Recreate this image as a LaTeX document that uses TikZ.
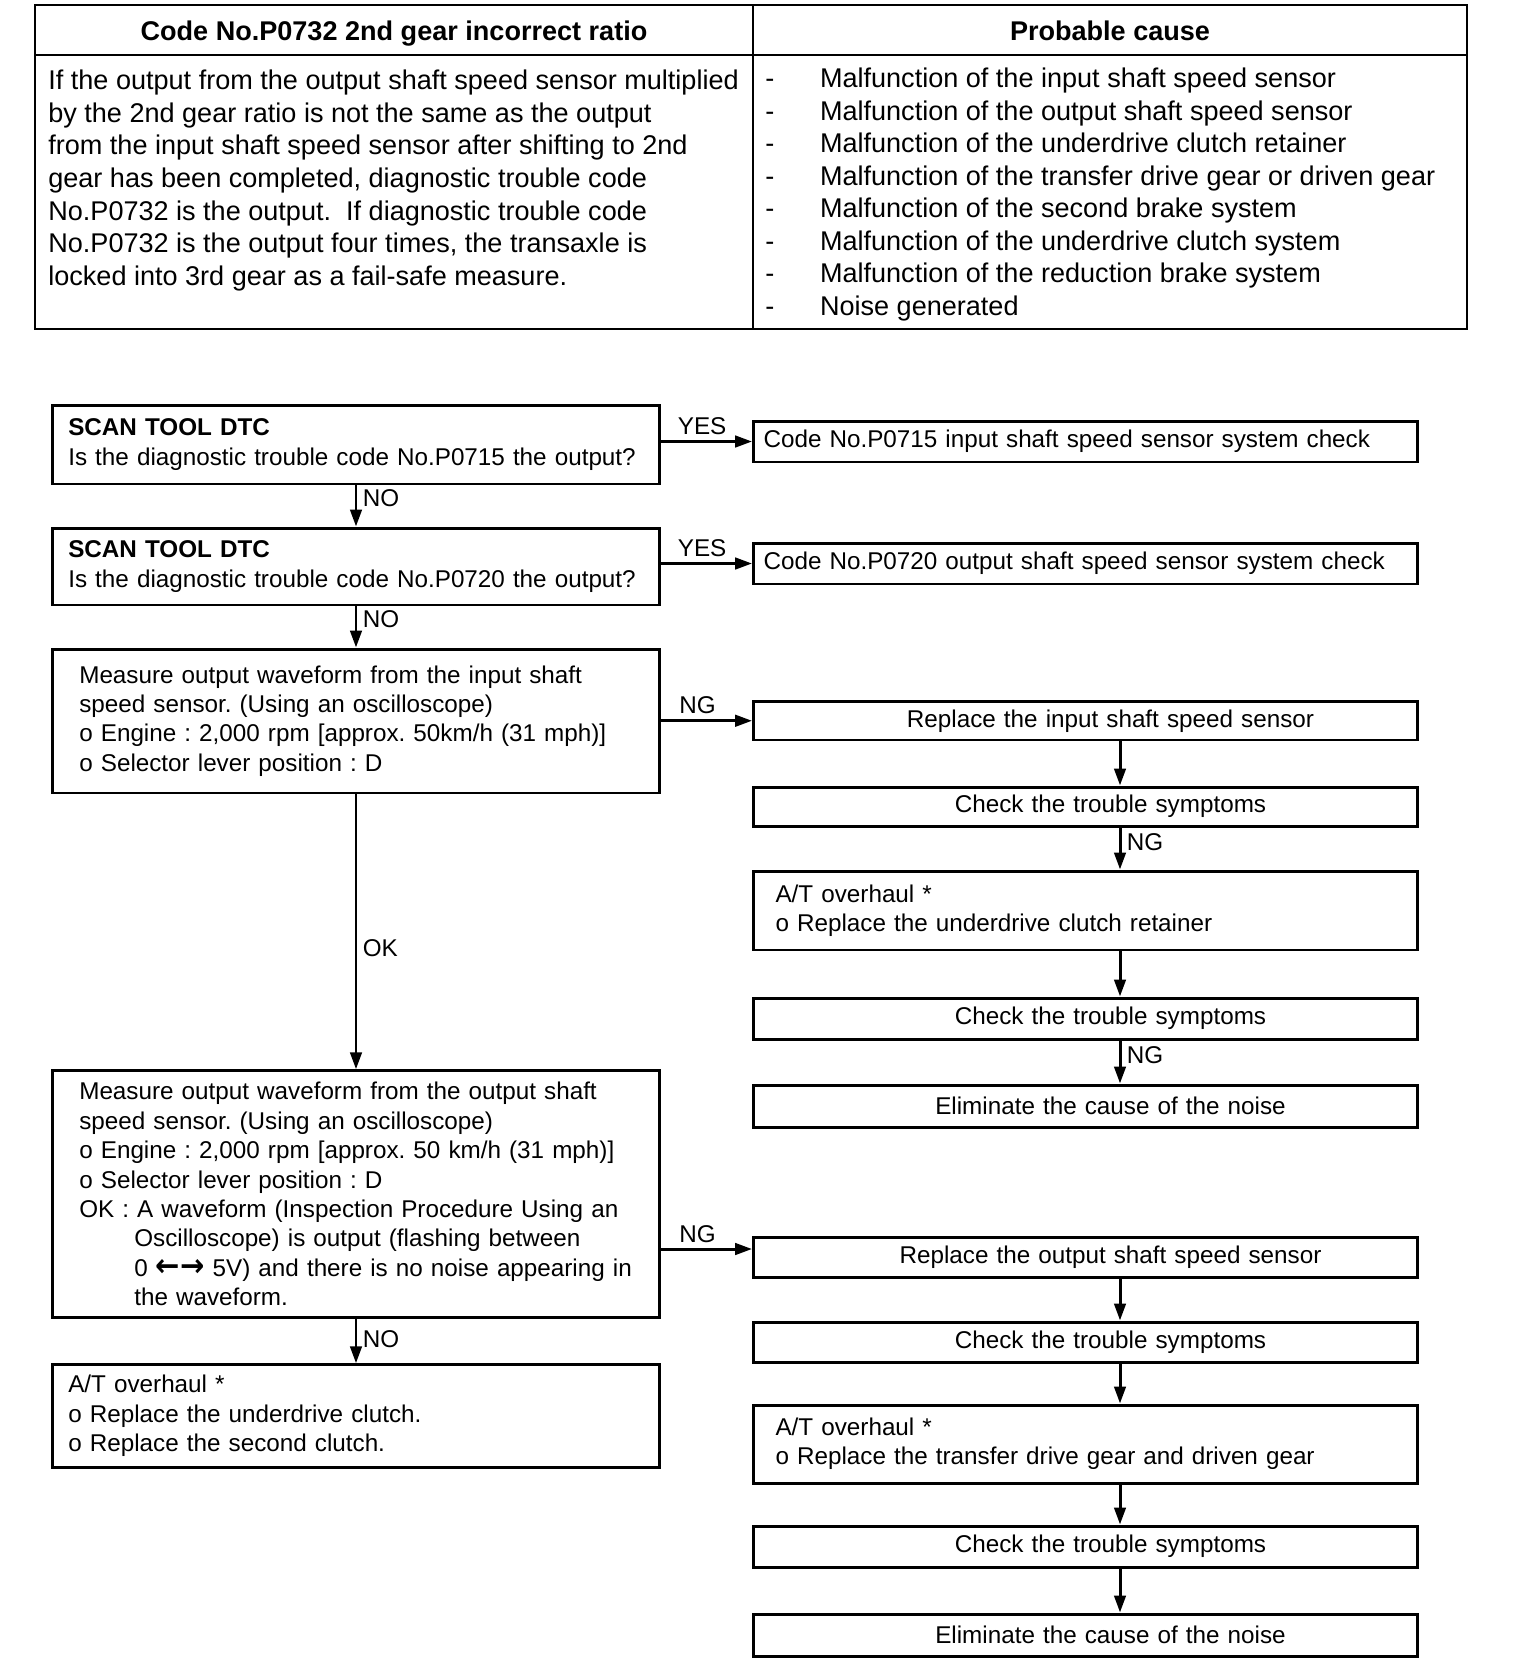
\documentclass[tikz,border=0pt]{standalone}
\usepackage{fontspec}
\setmainfont{Liberation Sans}
\newfontfamily\dejavuarrows{DejaVu Sans}
\usepackage{tikz}
\usetikzlibrary{arrows.meta,positioning}
\frenchspacing
\tikzset{
  dtc diagram/.style={x=0.02cm, y=-0.02cm,
    font=\fontsize{13.8}{16.7}\selectfont, line join=miter},
  dtc cell/.style={draw, line width=1.4pt, inner sep=0pt,
    text height=1.3em, text depth=0.08em,
    font=\fontsize{15.4}{18.4}\selectfont\bfseries},
  dtc para/.style={font=\fontsize{15.4}{18.5}\selectfont, align=left, inner sep=0pt},
  dtc box/.style={draw, line width=1.7pt, inner ysep=0pt},
  dtc left box/.style={dtc box, inner xsep=0.32cm, text width=11.51cm, align=left},
  dtc step box/.style={dtc box, inner xsep=0.54cm, text width=11.07cm, align=left},
  dtc right box/.style={dtc box, inner xsep=0.2cm, text width=12.88cm, align=left},
  dtc repair box/.style={dtc box, inner xsep=0.44cm, text width=12.4cm, align=left},
  dtc check box/.style={dtc box, inner xsep=0.2cm, text width=12.88cm, align=center,
    execute at begin node=\hspace*{1cm}},
  dtc arrow/.style={-{Triangle[length=3.4mm,width=2.3mm]}, line width=1.7pt},
  dtc label/.style={inner sep=3pt}
}
\begin{document}
\begin{tikzpicture}[dtc diagram]
\useasboundingbox (0,0) rectangle (1536,1680);
% table
\node[dtc cell, minimum width=14.36cm, minimum height=1cm] (codehead) at (394,30) {Code No.P0732 2nd gear incorrect ratio};
\node[dtc cell, minimum width=14.28cm, minimum height=1cm] (causehead) at (1110,30) {Probable cause};
\node[dtc cell, minimum width=14.36cm, minimum height=5.48cm] (codebody) at (394,192) {};
\node[dtc cell, minimum width=14.28cm, minimum height=5.48cm] (causebody) at (1110,192) {};
\node[dtc para, anchor=west] (condition) at (48,180.5) {If the output from the output shaft speed sensor multiplied\\
by the 2nd gear ratio is not the same as the output\\
from the input shaft speed sensor after shifting to 2nd\\
gear has been completed, diagnostic trouble code\\
No.P0732 is the output.~ If diagnostic trouble code\\
No.P0732 is the output four times, the transaxle is\\
locked into 3rd gear as a fail-safe measure.};
\node[dtc para, anchor=west] (causes) at (765,195) {\begin{tabular}{@{}l@{\hspace{26pt}}l@{}}
- & Malfunction of the input shaft speed sensor\\
- & Malfunction of the output shaft speed sensor\\
- & Malfunction of the underdrive clutch retainer\\
- & Malfunction of the transfer drive gear or driven gear\\
- & Malfunction of the second brake system\\
- & Malfunction of the underdrive clutch system\\
- & Malfunction of the reduction brake system\\
- & Noise generated
\end{tabular}};
% left column
\node[dtc left box, minimum height=1.58cm] (dtc715) at (356,444.5) {\textbf{SCAN TOOL DTC}\\Is the diagnostic trouble code No.P0715 the output?};
\node[dtc left box, minimum height=1.54cm] (dtc720) at (356,566.5) {\textbf{SCAN TOOL DTC}\\Is the diagnostic trouble code No.P0720 the output?};
\node[dtc step box, minimum height=2.88cm] (inwave) at (356,721) {Measure output waveform from the input shaft\\
speed sensor. (Using an oscilloscope)\\
o Engine : 2,000 rpm [approx. 50km/h (31 mph)]\\
o Selector lever position : D};
\node[dtc step box, minimum height=4.93cm] (outwave) at (356,1194) {Measure output waveform from the output shaft\\
speed sensor. (Using an oscilloscope)\\
o Engine : 2,000 rpm [approx. 50 km/h (31 mph)]\\
o Selector lever position : D\\
OK : A waveform (Inspection Procedure Using an\\
\hspace*{1.1cm}Oscilloscope) is output (flashing between\\
\mbox{\hspace*{1.1cm}0 {\dejavuarrows\bfseries\scalebox{1.2}[1.3]{←→}}\ 5V) and there is no noise appearing in}\\
\hspace*{1.1cm}the waveform.};
\node[dtc left box, minimum height=2.05cm] (clutch) at (356,1416) {A/T overhaul *\\
o Replace the underdrive clutch.\\
o Replace the second clutch.};
% right column
\node[dtc right box, minimum height=0.82cm] (chk715) at (1085.5,441.5) {Code No.P0715 input shaft speed sensor system check};
\node[dtc right box, minimum height=0.82cm] (chk720) at (1085.5,563.5) {Code No.P0720 output shaft speed sensor system check};
\node[dtc check box, minimum height=0.77cm] (newin) at (1085.5,720.75) {Replace the input shaft speed sensor};
\node[dtc check box, minimum height=0.78cm] (symp1) at (1085.5,806.5) {Check the trouble symptoms};
\node[dtc repair box, minimum height=1.58cm] (retainer) at (1085.5,910.5) {A/T overhaul *\\o Replace the underdrive clutch retainer};
\node[dtc check box, minimum height=0.82cm] (symp2) at (1085.5,1018.5) {Check the trouble symptoms};
\node[dtc check box, minimum height=0.84cm] (noise1) at (1085.5,1106) {Eliminate the cause of the noise};
\node[dtc check box, minimum height=0.8cm] (newout) at (1085.5,1257) {Replace the output shaft speed sensor};
\node[dtc check box, minimum height=0.8cm] (symp3) at (1085.5,1342) {Check the trouble symptoms};
\node[dtc repair box, minimum height=1.56cm] (transfer) at (1085.5,1444) {A/T overhaul *\\o Replace the transfer drive gear and driven gear};
\node[dtc check box, minimum height=0.82cm] (symp4) at (1085.5,1546.5) {Check the trouble symptoms};
\node[dtc check box, minimum height=0.84cm] (noise2) at (1085.5,1635) {Eliminate the cause of the noise};
\coordinate (rline) at (1120,0);
\coordinate (ngout) at ([yshift=1.6mm]newout.west);
% connectors
\draw[dtc arrow] (dtc715) -- node[dtc label,right,pos=0.3] {NO} (dtc720);
\draw[dtc arrow] (dtc720) -- node[dtc label,right,pos=0.32] {NO} (inwave);
\draw[dtc arrow] (inwave) -- node[dtc label,right,pos=0.56] {OK} (outwave);
\draw[dtc arrow] (outwave) -- node[dtc label,right,pos=0.46] {NO} (clutch);
\draw[dtc arrow] (dtc715.east |- chk715) -- node[dtc label,above,pos=0.45] {YES} (chk715.west);
\draw[dtc arrow] (dtc720.east |- chk720) -- node[dtc label,above,pos=0.45] {YES} (chk720.west);
\draw[dtc arrow] (inwave.east |- newin) -- node[dtc label,above,pos=0.4] {NG} (newin.west);
\draw[dtc arrow] (outwave.east |- ngout) -- node[dtc label,above,pos=0.4] {NG} (ngout);
\draw[dtc arrow] (newin.south -| rline) -- (symp1.north -| rline);
\draw[dtc arrow] (symp1.south -| rline) -- node[dtc label,right,pos=0.36] {NG} (retainer.north -| rline);
\draw[dtc arrow] (retainer.south -| rline) -- (symp2.north -| rline);
\draw[dtc arrow] (symp2.south -| rline) -- node[dtc label,right,pos=0.35] {NG} (noise1.north -| rline);
\draw[dtc arrow] (newout.south -| rline) -- (symp3.north -| rline);
\draw[dtc arrow] (symp3.south -| rline) -- (transfer.north -| rline);
\draw[dtc arrow] (transfer.south -| rline) -- (symp4.north -| rline);
\draw[dtc arrow] (symp4.south -| rline) -- (noise2.north -| rline);
\end{tikzpicture}
\end{document}
